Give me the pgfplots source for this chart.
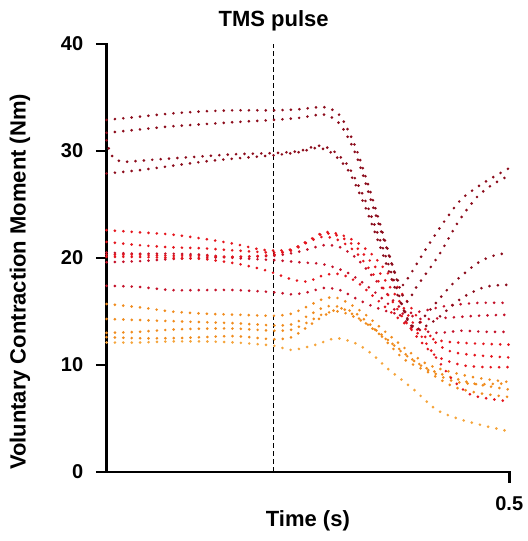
\documentclass[border=0pt]{standalone}
\usepackage{fontspec}
\setmainfont{Liberation Sans}
\usepackage{pgfplots}
\pgfplotsset{compat=1.18}

\definecolor{maroonA}{RGB}{140,12,28}
\definecolor{crimsonA}{RGB}{196,18,42}
\definecolor{redA}{RGB}{228,22,30}
\definecolor{orangeA}{RGB}{240,140,30}
\definecolor{orangeB}{RGB}{245,165,60}

\pgfplotsset{
  dots/.style={smooth, tension=0.45, no marks, line width=2.2pt, line cap=round,
               dash pattern=on 0pt off 6.3pt},
}

\begin{document}
\begin{tikzpicture}
\begin{axis}[
    scale only axis,
    width=302pt, height=321pt,
    xmin=0, xmax=0.5, ymin=0, ymax=40,
    axis x line*=bottom, axis y line*=left,
    axis line style={line width=2.2pt, line cap=rect},
    tick style={line width=2.2pt, black},
    major tick length=8pt,
    tick align=outside,
    xtick={0.5}, ytick={0,10,20,30,40},
    /pgf/number format/assume math mode=true,
    ticklabel style={font=\fontsize{15}{18}\selectfont\bfseries},
    yticklabel style={xshift=-6pt},
    xticklabel style={yshift=-7pt},
    xlabel={Time (s)},
    ylabel={Voluntary Contraction Moment (Nm)},
    every axis x label/.style={at={(rel axis cs:0.5,-0.115)}, anchor=center,
        font=\fontsize{16.5}{20}\selectfont\bfseries},
    every axis y label/.style={at={(rel axis cs:-0.215,0.444)}, rotate=90, anchor=center,
        font=\fontsize{16.5}{20}\selectfont\bfseries},
    clip=false,
]
% frame of the whole picture
\path (axis cs:-0.1323,-6.45) rectangle (axis cs:0.5223,44.11);

% TMS pulse marker
\draw[black, line width=1.1pt, dash pattern=on 3.5pt off 2.5pt] (axis cs:0.2075,0) -- (axis cs:0.2075,40);
\node[font=\fontsize{16.5}{20}\selectfont\bfseries] at (axis cs:0.2075,42.2) {TMS pulse};

% orange traces
\addplot[dots, orangeA] coordinates {(0,15.7)(0.04,15.4)(0.08,15.0)(0.12,14.8)(0.16,14.7)(0.2075,14.6)(0.23,14.8)(0.25,15.5)(0.27,16.2)(0.285,16.3)(0.30,15.8)(0.32,14.8)(0.34,13.5)(0.36,12.2)(0.38,11.0)(0.40,10.0)(0.43,9.3)(0.46,8.8)(0.5,8.4)};
\addplot[dots, orangeA] coordinates {(0,14.3)(0.04,14.2)(0.08,14.1)(0.12,14.0)(0.16,13.9)(0.2075,13.7)(0.23,13.8)(0.25,14.6)(0.27,15.4)(0.285,15.5)(0.30,15.0)(0.32,14.0)(0.34,12.8)(0.36,11.7)(0.38,10.5)(0.40,9.6)(0.43,8.8)(0.46,8.2)(0.5,7.7)};
\addplot[dots, orangeA] coordinates {(0,13.0)(0.04,13.1)(0.08,13.3)(0.12,13.4)(0.16,13.4)(0.2075,13.2)(0.23,13.3)(0.25,14.0)(0.27,14.8)(0.29,15.0)(0.31,14.4)(0.33,13.5)(0.35,12.3)(0.37,11.0)(0.40,9.5)(0.43,8.5)(0.46,8.2)(0.5,8.3)};
\addplot[dots, orangeA] coordinates {(0,12.6)(0.04,12.5)(0.08,12.5)(0.12,12.6)(0.16,12.7)(0.2075,12.4)(0.23,12.6)(0.25,13.6)(0.27,14.6)(0.29,15.3)(0.31,14.8)(0.33,13.6)(0.35,12.0)(0.37,10.5)(0.40,9.3)(0.43,8.0)(0.46,7.4)(0.5,7.0)};
\addplot[dots, orangeB] coordinates {(0,12.1)(0.04,12.1)(0.08,12.2)(0.12,12.2)(0.16,12.1)(0.2075,11.8)(0.23,11.4)(0.26,11.9)(0.285,12.5)(0.31,12.0)(0.33,11.0)(0.35,9.6)(0.38,7.8)(0.41,5.8)(0.44,4.9)(0.47,4.3)(0.5,3.8)};

% red traces
\addplot[dots, crimsonA] coordinates {(0,17.4)(0.04,17.3)(0.08,17.0)(0.12,17.0)(0.16,17.0)(0.2075,16.8)(0.23,16.6)(0.25,16.8)(0.27,17.2)(0.29,17.0)(0.31,16.2)(0.33,15.5)(0.36,14.8)(0.39,15.0)(0.42,15.5)(0.46,15.8)(0.5,15.8)};
\addplot[dots, crimsonA] coordinates {(0,19.6)(0.04,19.7)(0.08,19.9)(0.12,20.0)(0.16,20.1)(0.2075,20.2)(0.24,20.6)(0.27,21.2)(0.29,21.0)(0.31,20.0)(0.33,18.3)(0.35,16.5)(0.37,15.0)(0.39,14.3)(0.42,14.4)(0.46,14.6)(0.5,14.7)};
\addplot[dots, redA] coordinates {(0,20.1)(0.04,20.1)(0.08,20.0)(0.12,19.9)(0.16,19.5)(0.19,19.0)(0.2075,18.6)(0.23,18.0)(0.25,17.8)(0.27,18.4)(0.29,18.5)(0.31,17.8)(0.33,16.5)(0.36,14.5)(0.39,12.8)(0.42,12.2)(0.46,12.0)(0.5,11.9)};
\addplot[dots, crimsonA] coordinates {(0,20.5)(0.04,20.4)(0.08,20.4)(0.12,20.3)(0.16,20.0)(0.2075,19.8)(0.24,19.6)(0.27,19.4)(0.30,18.6)(0.33,17.0)(0.36,15.0)(0.38,13.5)(0.41,13.0)(0.44,13.2)(0.47,13.1)(0.5,13.1)};
\addplot[dots, redA] coordinates {(0,20.3)(0.04,20.3)(0.08,20.2)(0.12,20.2)(0.16,20.1)(0.2075,20.3)(0.23,20.8)(0.25,21.5)(0.27,22.0)(0.29,21.6)(0.31,20.5)(0.33,18.6)(0.35,16.5)(0.37,14.2)(0.39,12.2)(0.41,10.8)(0.44,10.0)(0.47,9.8)(0.5,9.8)};
\addplot[dots, redA] coordinates {(0,21.5)(0.04,21.2)(0.08,21.0)(0.12,20.9)(0.16,20.7)(0.2075,20.5)(0.23,20.7)(0.25,21.5)(0.27,22.3)(0.29,22.0)(0.31,21.0)(0.33,19.5)(0.35,17.5)(0.37,15.2)(0.39,12.8)(0.41,10.6)(0.43,8.6)(0.45,7.3)(0.47,6.9)(0.5,6.6)};
\addplot[dots, redA] coordinates {(0,22.6)(0.04,22.4)(0.08,22.2)(0.12,21.8)(0.16,21.3)(0.19,20.8)(0.2075,20.7)(0.23,20.8)(0.25,21.6)(0.27,22.4)(0.29,22.2)(0.31,21.5)(0.33,20.3)(0.35,18.5)(0.37,16.3)(0.39,14.0)(0.41,12.0)(0.43,11.2)(0.46,10.9)(0.5,10.7)};

% dark red traces
\addplot[dots, maroonA] coordinates {(0,27.9)(0.04,28.2)(0.08,28.6)(0.12,29.0)(0.16,29.3)(0.2075,29.6)(0.24,29.9)(0.262,30.3)(0.28,29.8)(0.30,28.2)(0.32,25.0)(0.34,21.0)(0.36,16.8)(0.378,13.7)(0.39,13.4)(0.41,14.3)(0.44,16.2)(0.47,17.3)(0.5,17.5)};
\addplot[dots, maroonA] coordinates {(0,31.0)(0.006,29.6)(0.02,29.0)(0.06,29.2)(0.1,29.4)(0.16,29.7)(0.2075,29.8)(0.24,30.0)(0.262,30.5)(0.28,30.1)(0.30,28.6)(0.32,25.6)(0.34,21.6)(0.36,17.2)(0.375,14.0)(0.385,13.7)(0.40,15.0)(0.43,17.6)(0.46,19.5)(0.48,20.2)(0.5,20.5)};
\addplot[dots, maroonA] coordinates {(0,31.7)(0.04,32.0)(0.08,32.3)(0.12,32.5)(0.16,32.7)(0.2075,32.9)(0.24,33.1)(0.27,33.4)(0.29,32.5)(0.31,29.6)(0.33,25.0)(0.35,20.4)(0.364,17.2)(0.373,15.9)(0.385,17.3)(0.413,20.3)(0.436,23.3)(0.46,25.7)(0.48,26.9)(0.5,27.7)};
\addplot[dots, maroonA] coordinates {(0,32.9)(0.04,33.2)(0.08,33.5)(0.12,33.7)(0.16,33.8)(0.2075,33.8)(0.24,33.9)(0.27,34.1)(0.29,33.3)(0.31,30.2)(0.33,25.6)(0.345,21.8)(0.358,18.6)(0.366,17.4)(0.375,18.2)(0.397,20.9)(0.422,23.7)(0.442,25.6)(0.47,27.1)(0.5,28.4)};
\end{axis}
\end{tikzpicture}
\end{document}
